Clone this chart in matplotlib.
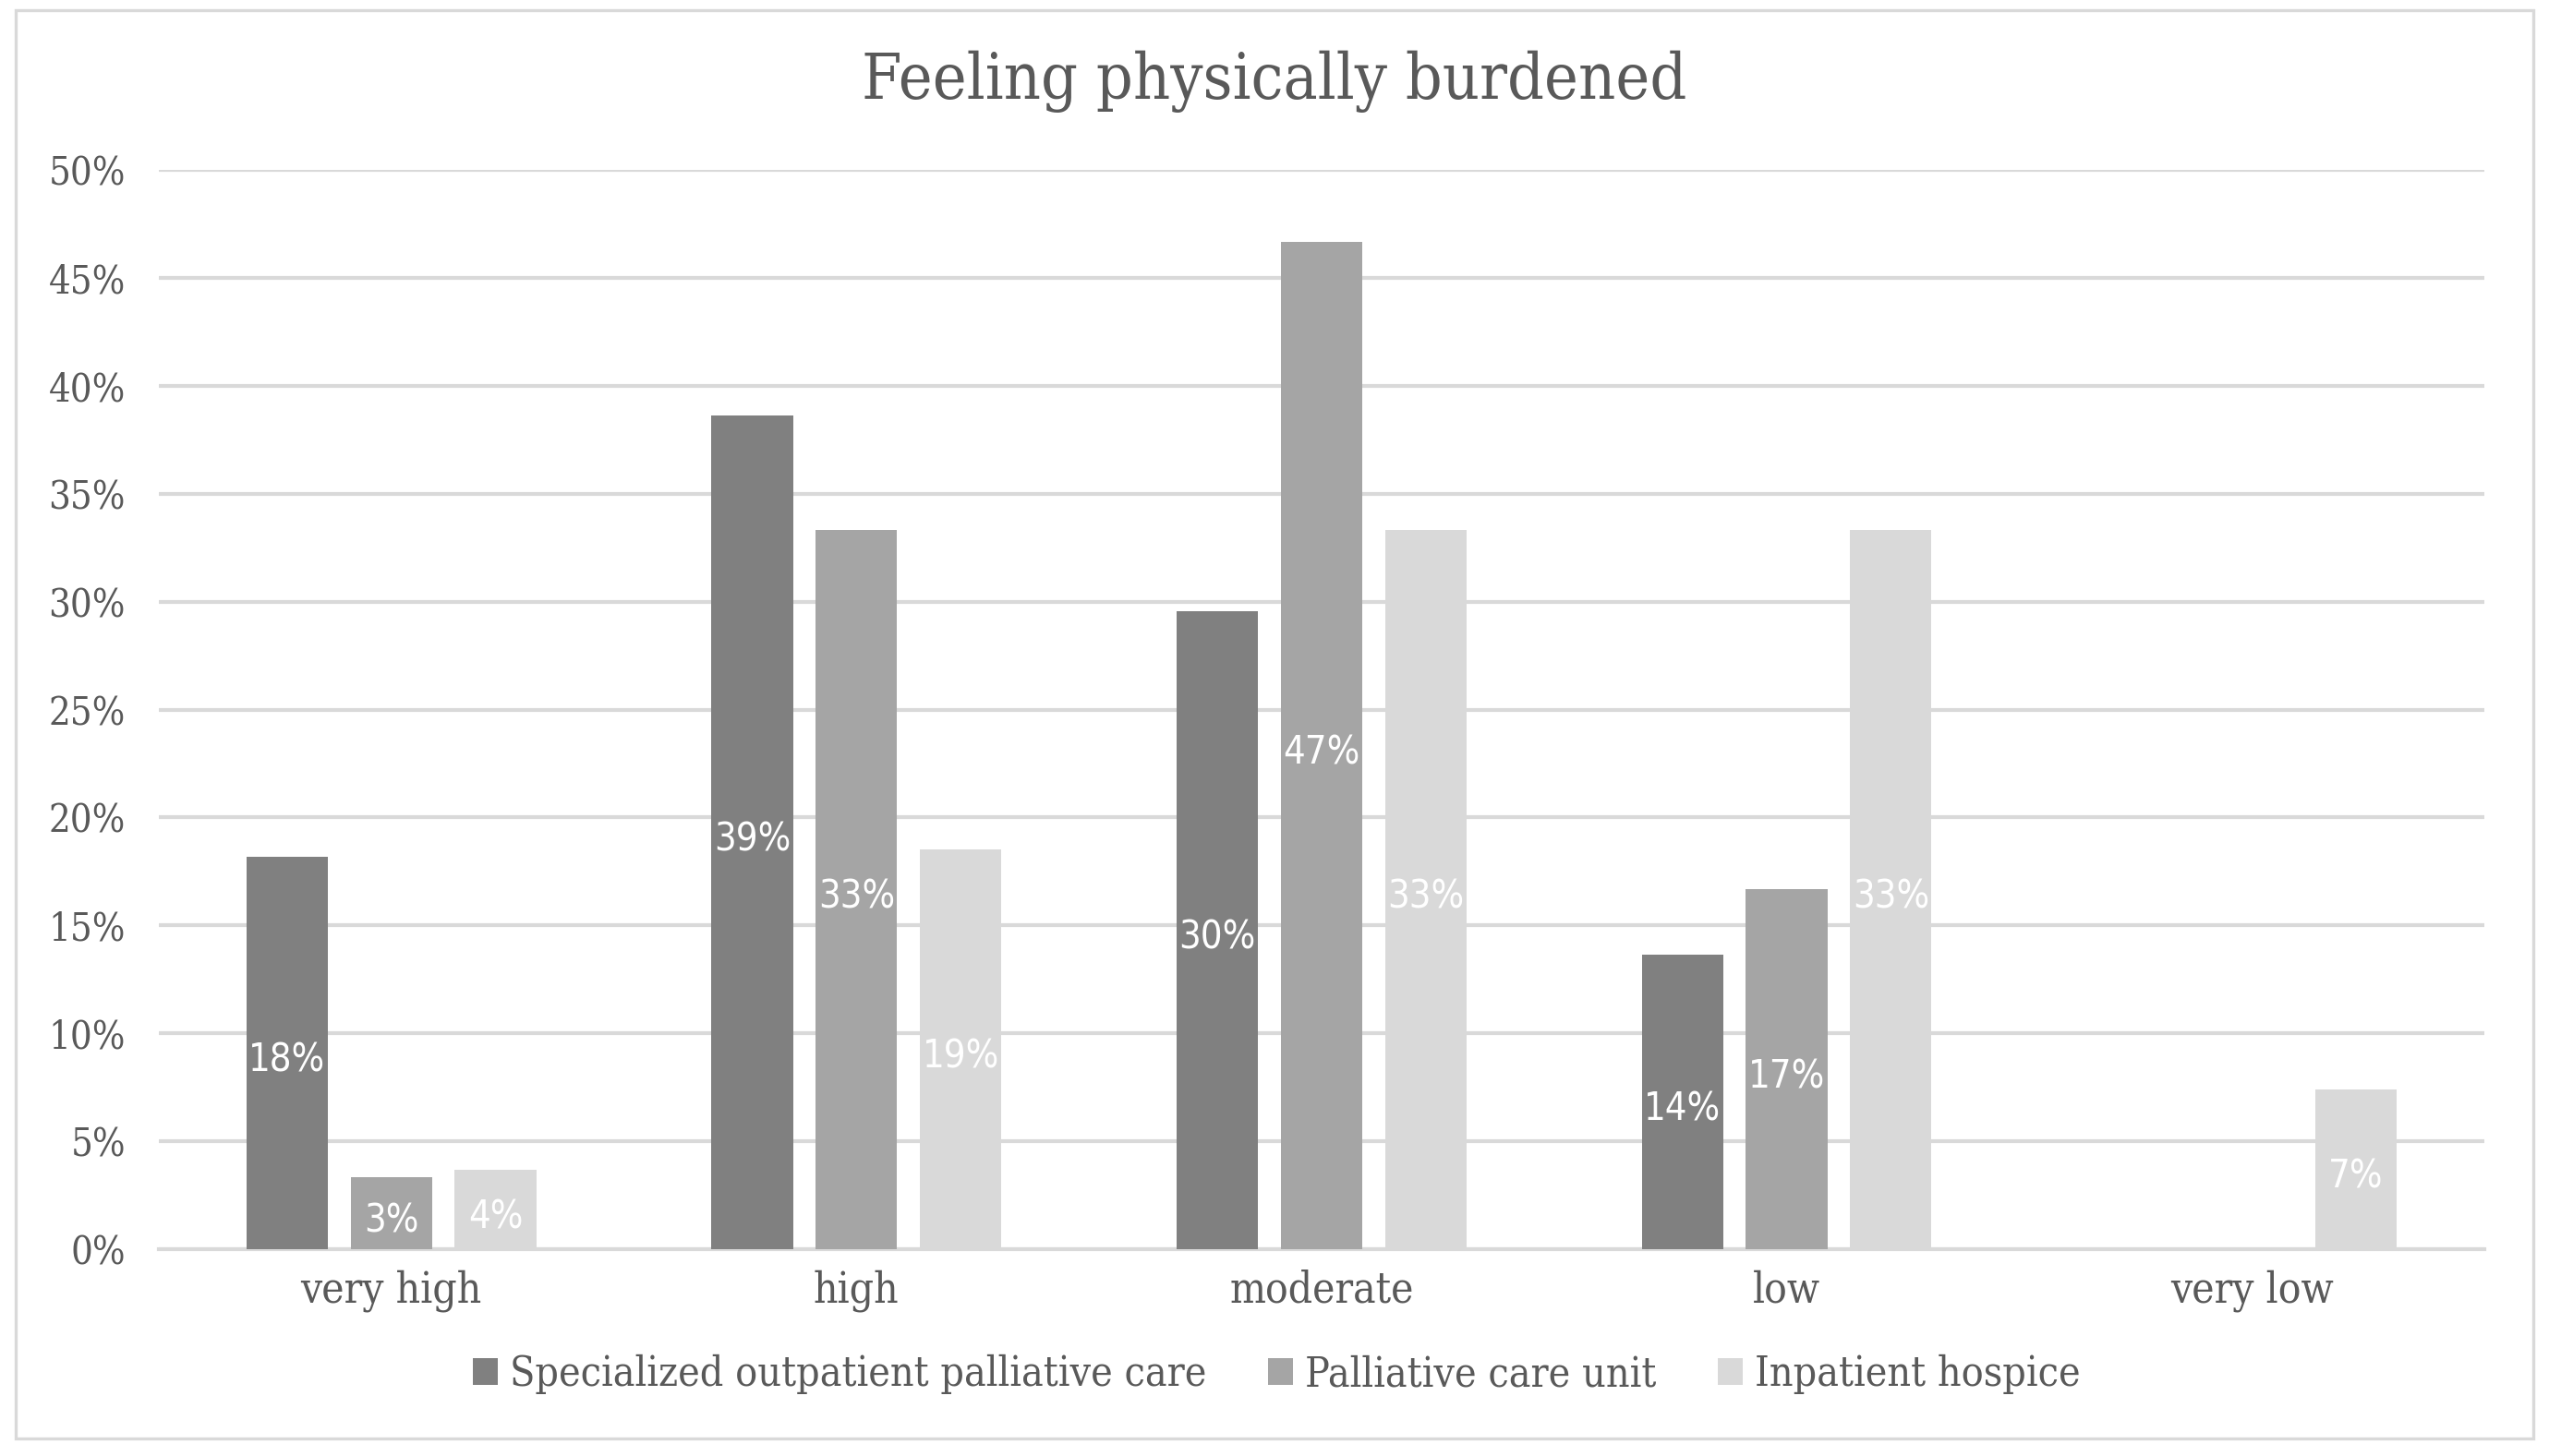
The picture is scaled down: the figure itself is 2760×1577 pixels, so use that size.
import matplotlib.pyplot as plt
import numpy as np
from matplotlib.patches import Rectangle
from matplotlib.ticker import FuncFormatter

# Datos del grafico (porcentajes)
categorias = ['very high', 'high', 'moderate', 'low', 'very low']
series = ['Specialized outpatient palliative care', 'Palliative care unit', 'Inpatient hospice']
ambulante = [18.18, 38.64, 29.55, 13.64, 0.0]
unidad_paliativa = [3.33, 33.33, 46.67, 16.67, 0.0]
hospicio = [3.70, 18.52, 33.33, 33.33, 7.41]
colores = ['#808080', '#A5A5A5', '#D9D9D9']

plt.rcParams['font.family'] = 'DejaVu Serif'
plt.rcParams['font.stretch'] = 'condensed'
texto = '#595959'
rejilla = '#D9D9D9'

fig = plt.figure(figsize=(13.8, 7.885), dpi=200)
fig.patches.append(Rectangle((0.006, 0.012), 0.988, 0.981, transform=fig.transFigure,
                             fill=False, edgecolor=rejilla, linewidth=1.2))

ax = fig.add_axes([0.0623, 0.142, 0.9123, 0.7413])
x = np.arange(len(categorias))
ancho = 0.175
paso = 0.224

for i, (nombre, valores) in enumerate(zip(series, [ambulante, unidad_paliativa, hospicio])):
    pos = x + (i - 1) * paso
    barras = ax.bar(pos, valores, ancho, color=colores[i], label=nombre, zorder=3)
    for b, v in zip(barras, valores):
        if v > 0:
            ax.annotate(f'{v:.0f}%', (b.get_x() + b.get_width() / 2, v / 2), xytext=(0, -3),
                        textcoords='offset points', ha='center', va='center', color='white',
                        fontsize=15, family='DejaVu Sans', fontstretch='condensed', zorder=4)

ax.set_xlim(-0.5, len(categorias) - 0.5)
ax.set_ylim(0, 50)
ax.set_yticks(np.arange(0, 51, 5))
ax.yaxis.set_major_formatter(FuncFormatter(lambda v, p: f'{v:.0f}%'))
ax.set_xticks(x)
ax.set_xticklabels(categorias)
ax.grid(axis='y', color=rejilla, linewidth=1.5, zorder=0)
for s in ['top', 'right', 'left']:
    ax.spines[s].set_visible(False)
ax.spines['bottom'].set_color(rejilla)
ax.spines['bottom'].set_linewidth(1.5)
ax.tick_params(axis='both', length=0, colors=texto)
ax.tick_params(axis='y', pad=13, labelsize=15)
ax.tick_params(axis='x', pad=8, labelsize=16.5)

fig.text(0.5, 0.944, 'Feeling physically burdened', ha='center', va='center', fontsize=25, color=texto)

leg = fig.legend(loc='center', bbox_to_anchor=(0.501, 0.056), ncol=3, frameon=False,
                 handlelength=0.6, handleheight=0.6, handletextpad=0.3, columnspacing=1.5,
                 fontsize=16)
for t in leg.get_texts():
    t.set_color(texto)

fig.savefig('out.png', dpi=200)
